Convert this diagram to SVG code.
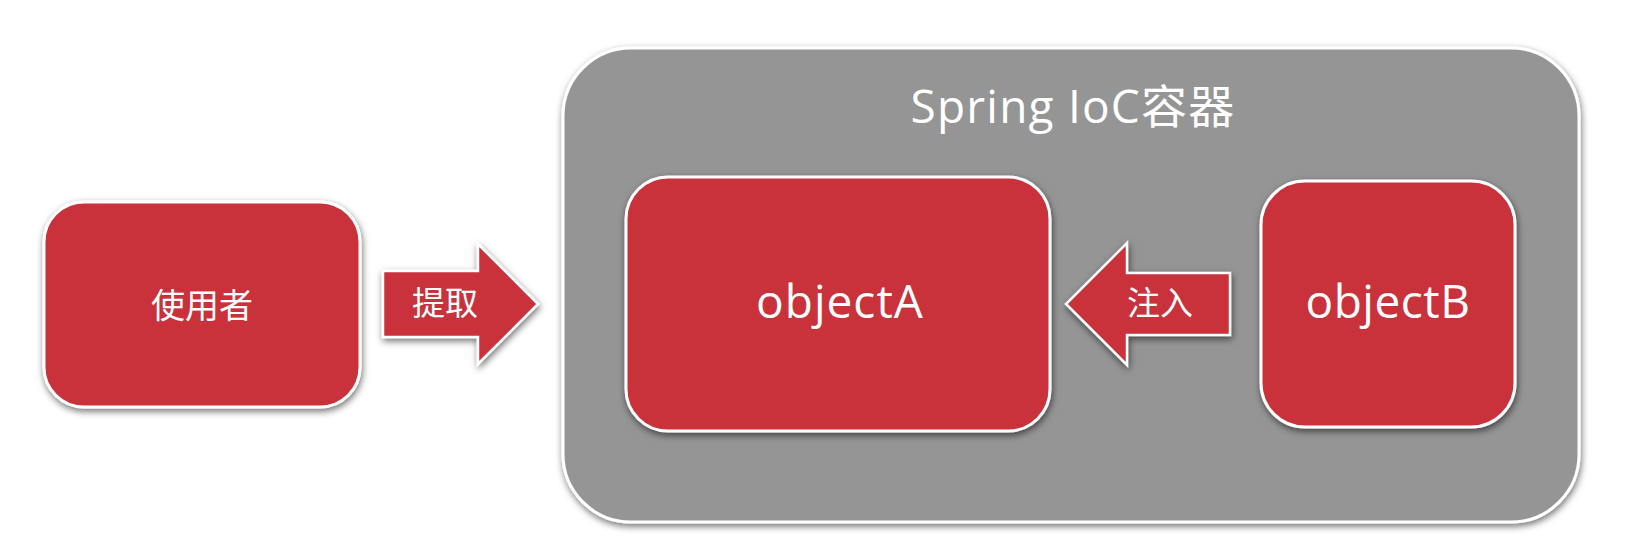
<svg xmlns="http://www.w3.org/2000/svg" width="1630" height="558" viewBox="0 0 1630 558">
<defs>
<filter id="sh" x="-10%" y="-10%" width="120%" height="125%">
<feDropShadow dx="1" dy="3" stdDeviation="3.5" flood-color="#000" flood-opacity="0.55"/>
</filter>
</defs>
<style>
.box{fill:#C9303A;stroke:#fff;stroke-width:3;filter:url(#sh)}
.cont{fill:#959595;stroke:#fff;stroke-width:3;filter:url(#sh)}
.arrow{fill:#C9303A;stroke:#fff;stroke-width:2.5;stroke-linejoin:miter;filter:url(#sh)}
.t{fill:#fff;font-family:"Open Sans","Noto Sans CJK SC",sans-serif;text-anchor:middle}
</style>
<rect width="1630" height="558" fill="#fff"/>
<g id="container">
<rect class="cont" x="563" y="48" width="1016" height="474" rx="68" ry="68"/>
<text class="t" x="1073" y="123" font-size="46" letter-spacing="1.2">Spring IoC容器</text>
</g>
<g id="user">
<rect class="box" x="44" y="202" width="316" height="205" rx="40" ry="40"/>
<text class="t" x="202" y="318" font-size="34">使用者</text>
</g>
<g id="objectA">
<rect class="box" x="626" y="177" width="424" height="254" rx="42" ry="42"/>
<text class="t" x="840" y="318" font-size="46" letter-spacing="1">objectA</text>
</g>
<g id="objectB">
<rect class="box" x="1261" y="181" width="254" height="246" rx="44" ry="44"/>
<text class="t" x="1388" y="318" font-size="46" letter-spacing="0.5">objectB</text>
</g>
<g id="connectors">
<g id="arrow-fetch">
<polygon class="arrow" points="383,271 478,271 478,244 538,304 478,364 478,337 383,337"/>
<text class="t" x="445" y="315" font-size="33">提取</text>
</g>
<g id="arrow-inject">
<polygon class="arrow" points="1230,273 1127,273 1127,243 1066,304 1127,365 1127,335 1230,335"/>
<text class="t" x="1160" y="315" font-size="33">注入</text>
</g>
</g>
</svg>
